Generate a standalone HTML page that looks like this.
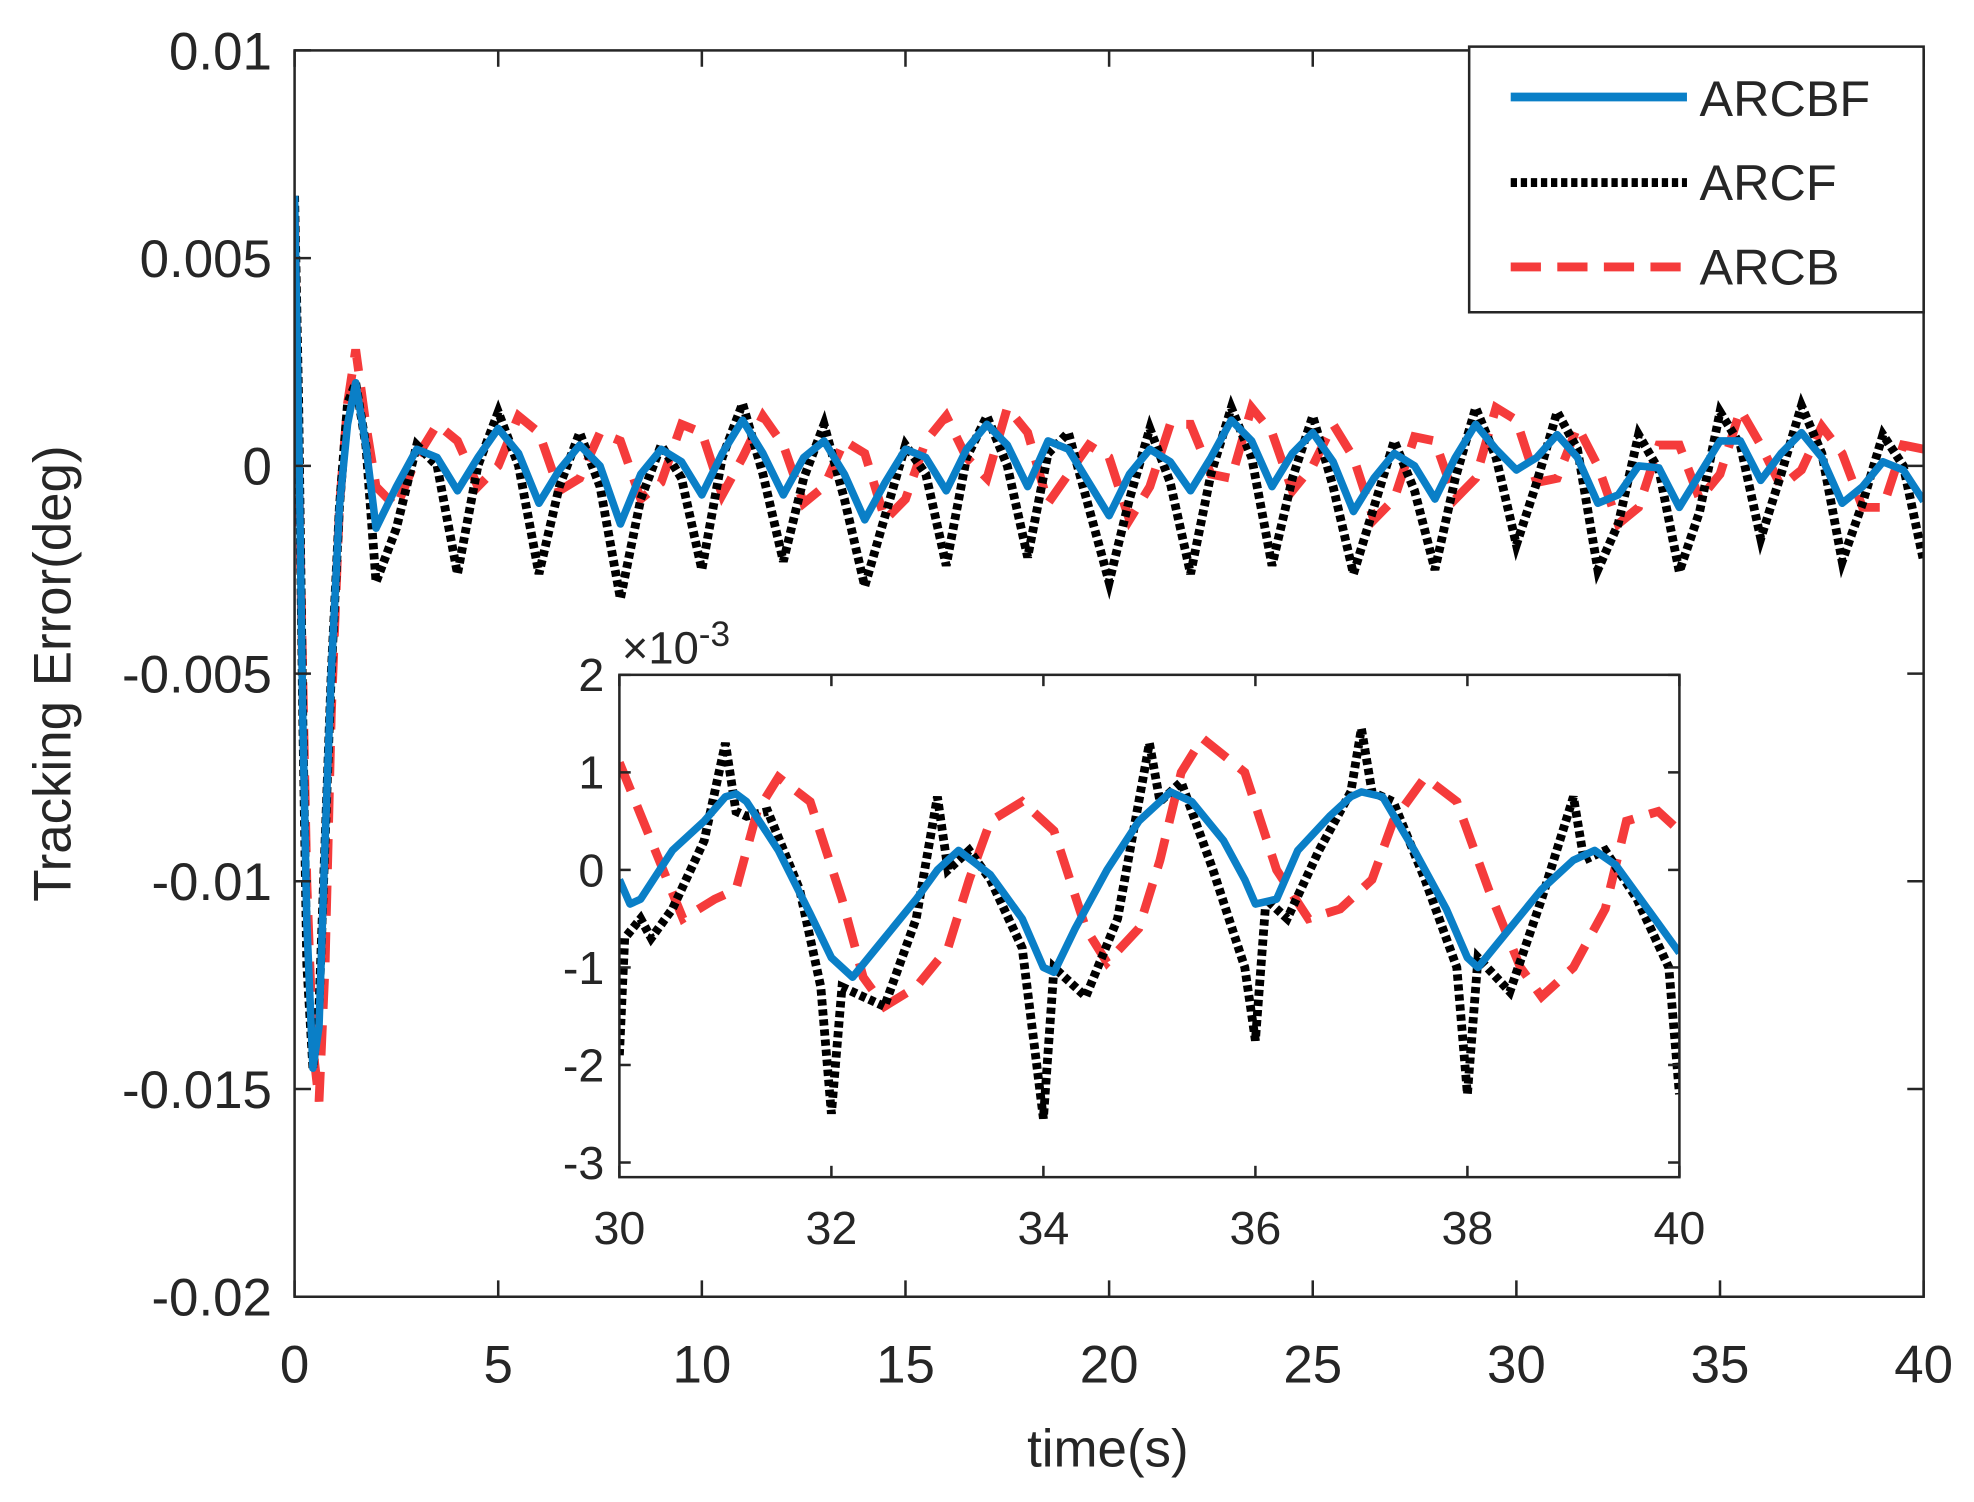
<!DOCTYPE html>
<html><head><meta charset="utf-8"><style>
html,body{margin:0;padding:0;background:#fff;}
svg{display:block;}
text{font-family:"Liberation Sans",Arial,sans-serif;fill:#262626;}
</style></head><body>
<svg id="chart" width="1974" height="1502" viewBox="0 0 1568 1193" xmlns="http://www.w3.org/2000/svg">
<defs>
<clipPath id="mainClip"><rect x="234" y="40" width="1294" height="990"/></clipPath>
<clipPath id="insetClip"><rect x="492" y="536" width="842" height="399"/></clipPath>
</defs>
<rect x="234" y="40" width="1294" height="990" fill="#fff"/>
<g id="mainLines" clip-path="url(#mainClip)"></g>
<g id="mainAxes"></g>
<rect x="492" y="536" width="842" height="399" fill="#fff"/>
<g id="insetLines" clip-path="url(#insetClip)"></g>
<g id="insetAxes"></g>
<text x="56" y="535" font-size="42" text-anchor="middle" transform="rotate(-90 56 535)">Tracking Error(deg)</text>
<text x="880" y="1165" font-size="42" text-anchor="middle">time(s)</text>
<text x="494" y="527" font-size="36">×10<tspan dy="-14" font-size="28">-3</tspan></text>
<g>
<rect x="1167" y="37" width="361" height="211" fill="#fff" stroke="#262626" stroke-width="2"/>
<line x1="1200" y1="77" x2="1340" y2="77" stroke="#0a7fc7" stroke-width="7"/>
<text x="1350" y="92" font-size="40">ARCBF</text>
<line x1="1200" y1="145" x2="1340" y2="145" stroke="#000" stroke-width="7" stroke-dasharray="5,3"/>
<text x="1350" y="159" font-size="40">ARCF</text>
<line x1="1200" y1="212" x2="1340" y2="212" stroke="#f53b3b" stroke-width="7" stroke-dasharray="24,13"/>
<text x="1350" y="226" font-size="40">ARCB</text>
</g>
</svg>
<script>
// ---------- main chart data (values in 1e-3 deg) ----------
const earlyT = [0,0.1,0.2,0.3,0.45,0.6,0.75,0.9,1.1,1.3,1.5,1.75];
const earlyArcbf = [6.5,1,-6,-11,-14.5,-13.5,-9,-5,-1,1,2,0.5];
const earlyArcf = [6.5,1.5,-6,-12,-14.5,-13,-9,-5,-1,1.5,2,0.5];
const earlyArcb = [6,0,-5,-10,-14,-15.3,-12,-6,-1,1.5,2.8,1.0];
const mainTStart = 2, mainTStep = 0.5;
const mainArcbf = [-1.5,-0.5,0.4,0.2,-0.6,0.2,0.9,0.3,-0.9,-0.1,0.5,0,-1.4,-0.2,0.4,0.1,-0.7,0.3,1.1,0.3,-0.7,0.2,0.6,-0.2,-1.3,-0.4,0.4,0.2,-0.6,0.4,1.0,0.5,-0.5,0.6,0.4,-0.4,-1.2,-0.2,0.4,0.1,-0.6,0.2,1.1,0.6,-0.5,0.3,0.8,0.1,-1.1,-0.3,0.3,0.0,-0.8,0.2,1.0,0.4,-0.1,0.2,0.75,0.2,-0.9,-0.7,0,-0.05,-1.0,-0.2,0.6,0.6,-0.35,0.3,0.8,0.2,-0.9,-0.5,0.1,-0.1,-0.85];
const mainArcf = [-2.8,-1.5,0.5,0,-2.6,0,1.3,0,-2.6,-0.5,0.8,-0.5,-3.2,-0.8,0.5,-0.3,-2.5,0.2,1.5,-0.2,-2.3,-0.3,1.0,-0.8,-2.9,-1.2,0.5,-0.2,-2.4,0.2,1.2,0,-2.2,0.3,0.8,-1.0,-2.8,-0.8,0.9,-0.4,-2.6,-0.2,1.4,0.2,-2.4,-0.3,1.2,-0.5,-2.6,-1.0,0.6,-0.6,-2.5,-0.3,1.4,0.2,-1.9,-0.4,1.3,0.4,-2.5,-1.4,0.75,-0.1,-2.55,-1.1,1.3,0.5,-1.75,-0.2,1.45,0.3,-2.3,-0.9,0.75,0,-2.3];
const mainArcb = [-0.5,-1.0,0.2,1.0,0.6,-0.5,0,1.2,0.8,-0.6,-0.3,0.8,0.6,-0.8,-0.4,1.0,0.8,-0.7,0.2,1.2,0.5,-0.9,-0.5,0.6,0.3,-1.3,-0.8,0.6,1.2,0.2,-0.3,1.4,0.8,-0.9,-0.2,0.5,0.2,-1.3,-0.5,1.0,1.0,-0.2,-0.3,1.4,0.8,-0.6,0,1.0,0.2,-1.3,-0.8,0.7,0.6,-0.8,-0.3,1.4,1.1,-0.4,-0.3,0.95,0,-1.4,-1.0,0.5,0.5,-0.8,-0.2,1.35,0.5,-0.5,-0.1,0.95,0.3,-1.0,-1.0,0.5,0.4];
const mainXTicks = [0,5,10,15,20,25,30,35,40];
const mainYTicks = [0.01,0.005,0,-0.005,-0.01,-0.015,-0.02];
const mainYLabels = ["0.01","0.005","0","-0.005","-0.01","-0.015","-0.02"];
// ---------- inset data (values in 1e-3 deg) ----------
const insetArcbfT = [30,30.1,30.2,30.5,30.8,31.0,31.1,31.2,31.5,31.8,32.0,32.2,32.5,32.8,33.0,33.2,33.5,33.8,34.0,34.1,34.3,34.6,34.9,35.2,35.4,35.7,35.9,36.0,36.2,36.4,36.7,36.9,37.0,37.2,37.5,37.8,38.0,38.1,38.4,38.7,39.0,39.2,39.4,39.7,40];
const insetArcbfV = [-0.1,-0.35,-0.3,0.2,0.5,0.75,0.78,0.7,0.2,-0.45,-0.9,-1.1,-0.7,-0.3,0,0.2,-0.05,-0.5,-1.0,-1.05,-0.6,0,0.5,0.8,0.7,0.3,-0.1,-0.35,-0.3,0.2,0.55,0.75,0.8,0.75,0.2,-0.4,-0.9,-1.0,-0.6,-0.2,0.1,0.2,0.05,-0.4,-0.85];
const insetArcfT = [30,30.05,30.2,30.3,30.5,30.8,31.0,31.1,31.2,31.4,31.7,31.9,32.0,32.1,32.3,32.5,32.8,33.0,33.1,33.3,33.5,33.8,34.0,34.1,34.4,34.7,35.0,35.1,35.3,35.6,35.9,36.0,36.1,36.3,36.6,36.9,37.0,37.1,37.3,37.6,37.9,38.0,38.1,38.4,38.7,39.0,39.1,39.3,39.6,39.9,40];
const insetArcfV = [-1.9,-0.7,-0.5,-0.7,-0.4,0.3,1.3,0.6,0.55,0.6,-0.2,-1.2,-2.5,-1.2,-1.3,-1.4,-0.5,0.75,0,0.2,-0.1,-0.8,-2.55,-1.0,-1.3,-0.5,1.3,0.7,0.9,0,-1.0,-1.75,-0.3,-0.5,0.2,0.8,1.45,0.8,0.7,-0.1,-1.0,-2.3,-0.9,-1.25,-0.3,0.75,0.1,0.2,-0.3,-1.0,-2.3];
const insetArcbT = [30,30.3,30.6,30.9,31.1,31.3,31.5,31.8,32.1,32.3,32.5,32.8,33.1,33.3,33.5,33.8,34.1,34.4,34.6,34.9,35.1,35.3,35.5,35.9,36.2,36.5,36.8,37.1,37.3,37.6,37.9,38.2,38.5,38.7,39.0,39.3,39.5,39.8,40];
const insetArcbV = [1.1,0.3,-0.5,-0.3,-0.2,0.6,0.95,0.7,-0.3,-1.1,-1.4,-1.2,-0.8,-0.1,0.5,0.7,0.4,-0.6,-0.95,-0.6,0.1,1.0,1.35,1.0,0,-0.5,-0.4,-0.1,0.5,0.95,0.7,-0.2,-1.0,-1.3,-1.0,-0.4,0.5,0.6,0.4];
const insetXTicks = [30,32,34,36,38,40];
const insetYTicks = [2,1,0,-1,-2,-3];

const NS = "http://www.w3.org/2000/svg";
function mk(tag, attrs, parent){const e=document.createElementNS(NS,tag);for(const k in attrs)e.setAttribute(k,attrs[k]);parent.appendChild(e);return e;}
const mx = t => 234 + (t - 0) / 40 * 1294;
const my = v => 40 + (0.01 - v) / 0.03 * 990;
const ix = t => 492 + (t - 30) / 10 * 842;
const iy = v => 536 + (2 - v) / 5.15 * 399;

const styles = {
  arcbf:{stroke:"#0a7fc7","stroke-width":6,fill:"none","stroke-linejoin":"round"},
  arcf:{stroke:"#000","stroke-width":7,fill:"none","stroke-dasharray":"5,3"},
  arcb:{stroke:"#f53b3b","stroke-width":7,fill:"none","stroke-dasharray":"24,13"}
};
function pathD(ts, vs, fx, fy){return ts.map((t,i)=>(i?"L":"M")+fx(t).toFixed(2)+","+fy(vs[i]).toFixed(2)).join(" ");}

const mainT = mainArcbf.map((_,i)=>mainTStart+i*mainTStep);
const mL = document.getElementById("mainLines");
[["arcb",earlyArcb,mainArcb],["arcf",earlyArcf,mainArcf],["arcbf",earlyArcbf,mainArcbf]].forEach(([k,e,m])=>{
  const ts = earlyT.concat(mainT), vs = e.concat(m).map(v=>v*1e-3);
  const p = mk("path", Object.assign({d:pathD(ts,vs,mx,my)}, styles[k]), mL);
  
  
});
const mA = document.getElementById("mainAxes");
const mf = mk("rect",{x:234,y:40,width:1294,height:990,fill:"none",stroke:"#262626","stroke-width":2},mA);


mainXTicks.forEach(t=>{
  const x=mx(t);
  mk("line",{x1:x,y1:1030,x2:x,y2:1017,stroke:"#262626","stroke-width":2},mA);
  mk("line",{x1:x,y1:40,x2:x,y2:53,stroke:"#262626","stroke-width":2},mA);
  const tx = mk("text",{x:x,y:1098,"font-size":42,"text-anchor":"middle"},mA);
  tx.textContent = t;
  
  
});
mainYTicks.forEach((v,i)=>{
  const y=my(v);
  mk("line",{x1:234,y1:y,x2:247,y2:y,stroke:"#262626","stroke-width":2},mA);
  mk("line",{x1:1528,y1:y,x2:1515,y2:y,stroke:"#262626","stroke-width":2},mA);
  const tx = mk("text",{x:216,y:y+15,"font-size":42,"text-anchor":"end"},mA);
  tx.textContent = mainYLabels[i];
  
  
});
const iL = document.getElementById("insetLines");
[["arcb",insetArcbT,insetArcbV],["arcf",insetArcfT,insetArcfV],["arcbf",insetArcbfT,insetArcbfV]].forEach(([k,ts,vs])=>{
  const p = mk("path", Object.assign({d:pathD(ts,vs,ix,iy)}, styles[k]), iL);
  
  
});
const iA = document.getElementById("insetAxes");
const inf = mk("rect",{x:492,y:536,width:842,height:399,fill:"none",stroke:"#262626","stroke-width":2},iA);


insetXTicks.forEach(t=>{
  const x=ix(t);
  mk("line",{x1:x,y1:935,x2:x,y2:926,stroke:"#262626","stroke-width":2},iA);
  mk("line",{x1:x,y1:536,x2:x,y2:545,stroke:"#262626","stroke-width":2},iA);
  const tx = mk("text",{x:x,y:988,"font-size":37,"text-anchor":"middle"},iA);
  tx.textContent = t;
  
  
});
insetYTicks.forEach(v=>{
  const y=iy(v);
  mk("line",{x1:492,y1:y,x2:501,y2:y,stroke:"#262626","stroke-width":2},iA);
  mk("line",{x1:1334,y1:y,x2:1325,y2:y,stroke:"#262626","stroke-width":2},iA);
  const tx = mk("text",{x:480,y:y+13,"font-size":37,"text-anchor":"end"},iA);
  tx.textContent = v;
  
  
});
</script>
</body></html>
